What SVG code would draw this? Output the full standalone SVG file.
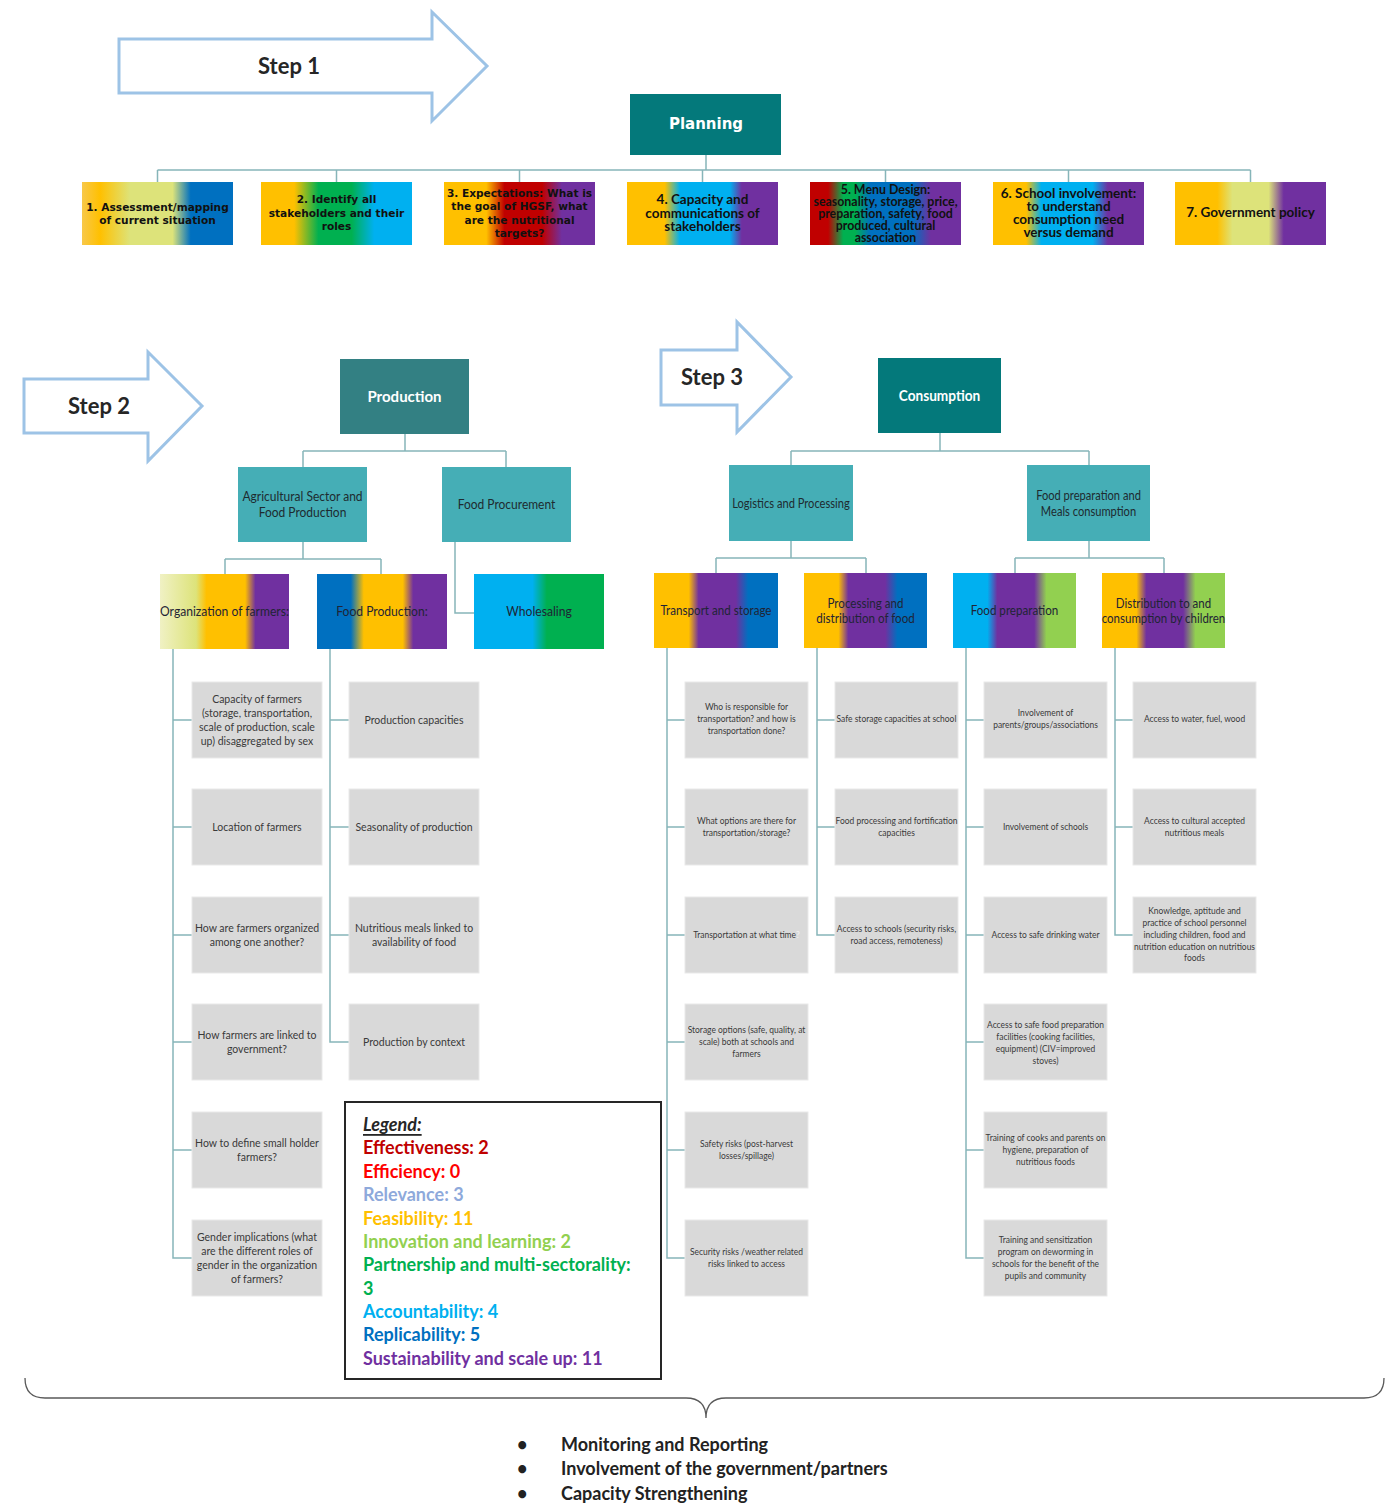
<svg xmlns="http://www.w3.org/2000/svg" width="1392" height="1504" viewBox="0 0 1392 1504">
<style>
.arrow{fill:#fff;stroke:#9DC3E6;stroke-width:3}
.step{font-family:Lato,"Liberation Sans",sans-serif;font-weight:700;font-size:22px;fill:#262626;text-anchor:middle;dominant-baseline:central}
.conn{fill:none;stroke:#86B5B9;stroke-width:1.5}
.t1{font-family:"DejaVu Sans",Verdana,sans-serif;font-weight:700;font-size:10.6px;fill:#111;text-anchor:middle;dominant-baseline:central}
.t1c{font-family:Lato,"Liberation Sans",sans-serif;font-weight:700;font-size:13.5px;fill:#111;text-anchor:middle;dominant-baseline:central}
.dk{fill:#04797B}
.dt{font-family:Lato,"Liberation Sans",sans-serif;font-weight:700;font-size:15px;fill:#fff;text-anchor:middle;dominant-baseline:central}
.pt{font-family:"DejaVu Sans",Verdana,sans-serif;font-weight:700;font-size:15px;fill:#fff;text-anchor:middle;dominant-baseline:central}
.lt{fill:#45AEB6}
.l2{font-family:Lato,"Liberation Sans",sans-serif;font-size:12.5px;fill:#1E2B30;text-anchor:middle;dominant-baseline:central}
.l3{font-family:Lato,"Liberation Sans",sans-serif;font-size:12.5px;fill:#1F2435;text-anchor:middle;dominant-baseline:central}
.gr{fill:#D9D9D9;stroke:#E9E9E9;stroke-width:1}
.g1{font-family:Lato,"Liberation Sans",sans-serif;font-size:10.5px;fill:#3A3A3A;text-anchor:middle;dominant-baseline:central}
.g2{font-family:Lato,"Liberation Sans",sans-serif;font-size:9.2px;fill:#3A3A3A;text-anchor:middle;dominant-baseline:central}
.lg{font-family:Lato,"Liberation Sans",sans-serif;font-weight:700;font-size:18px;dominant-baseline:central}
.bl{font-family:Lato,"Liberation Sans",sans-serif;font-weight:700;font-size:18px;fill:#222;dominant-baseline:central}
</style>
<defs>
<linearGradient id="gb1"><stop offset="0" stop-color="#F8C84A"/><stop offset="0.12" stop-color="#FFC000"/><stop offset="0.32" stop-color="#DDE37A"/><stop offset="0.6" stop-color="#DDE37A"/><stop offset="0.72" stop-color="#0070C0"/><stop offset="1" stop-color="#0070C0"/></linearGradient>
<linearGradient id="gb2"><stop offset="0" stop-color="#FFC000"/><stop offset="0.22" stop-color="#FFC000"/><stop offset="0.38" stop-color="#00B050"/><stop offset="0.6" stop-color="#00B050"/><stop offset="0.75" stop-color="#00B0F0"/><stop offset="1" stop-color="#00B0F0"/></linearGradient>
<linearGradient id="gb3"><stop offset="0" stop-color="#FFC000"/><stop offset="0.28" stop-color="#FFC000"/><stop offset="0.4" stop-color="#C00000"/><stop offset="0.65" stop-color="#C00000"/><stop offset="0.78" stop-color="#7030A0"/><stop offset="1" stop-color="#7030A0"/></linearGradient>
<linearGradient id="gb4"><stop offset="0" stop-color="#FFC000"/><stop offset="0.25" stop-color="#FFC000"/><stop offset="0.35" stop-color="#00B0F0"/><stop offset="0.68" stop-color="#00B0F0"/><stop offset="0.76" stop-color="#7030A0"/><stop offset="1" stop-color="#7030A0"/></linearGradient>
<linearGradient id="gb5"><stop offset="0" stop-color="#C00000"/><stop offset="0.12" stop-color="#C00000"/><stop offset="0.22" stop-color="#00B050"/><stop offset="0.3" stop-color="#00B050"/><stop offset="0.4" stop-color="#0070C0"/><stop offset="0.68" stop-color="#0070C0"/><stop offset="0.8" stop-color="#7030A0"/><stop offset="1" stop-color="#7030A0"/></linearGradient>
<linearGradient id="gb6"><stop offset="0" stop-color="#FFC000"/><stop offset="0.22" stop-color="#FFC000"/><stop offset="0.32" stop-color="#00B0F0"/><stop offset="0.66" stop-color="#00B0F0"/><stop offset="0.76" stop-color="#7030A0"/><stop offset="1" stop-color="#7030A0"/></linearGradient>
<linearGradient id="gb7"><stop offset="0" stop-color="#FFC000"/><stop offset="0.28" stop-color="#FFC000"/><stop offset="0.38" stop-color="#DDE37A"/><stop offset="0.62" stop-color="#DDE37A"/><stop offset="0.72" stop-color="#7030A0"/><stop offset="1" stop-color="#7030A0"/></linearGradient>
<linearGradient id="gOrg"><stop offset="0" stop-color="#F0F1C4"/><stop offset="0.28" stop-color="#DDE37A"/><stop offset="0.36" stop-color="#FFC000"/><stop offset="0.66" stop-color="#FFC000"/><stop offset="0.74" stop-color="#7030A0"/><stop offset="1" stop-color="#7030A0"/></linearGradient>
<linearGradient id="gFP"><stop offset="0" stop-color="#0070C0"/><stop offset="0.26" stop-color="#0070C0"/><stop offset="0.36" stop-color="#FFC000"/><stop offset="0.66" stop-color="#FFC000"/><stop offset="0.74" stop-color="#7030A0"/><stop offset="1" stop-color="#7030A0"/></linearGradient>
<linearGradient id="gWh"><stop offset="0" stop-color="#00B0F0"/><stop offset="0.45" stop-color="#00B0F0"/><stop offset="0.56" stop-color="#00B050"/><stop offset="1" stop-color="#00B050"/></linearGradient>
<linearGradient id="gTS"><stop offset="0" stop-color="#FFC000"/><stop offset="0.28" stop-color="#FFC000"/><stop offset="0.36" stop-color="#7030A0"/><stop offset="0.66" stop-color="#7030A0"/><stop offset="0.76" stop-color="#0070C0"/><stop offset="1" stop-color="#0070C0"/></linearGradient>
<linearGradient id="gFPr"><stop offset="0" stop-color="#00B0F0"/><stop offset="0.28" stop-color="#00B0F0"/><stop offset="0.36" stop-color="#7030A0"/><stop offset="0.66" stop-color="#7030A0"/><stop offset="0.76" stop-color="#92D050"/><stop offset="1" stop-color="#92D050"/></linearGradient>
<linearGradient id="gDi"><stop offset="0" stop-color="#FFC000"/><stop offset="0.28" stop-color="#FFC000"/><stop offset="0.36" stop-color="#7030A0"/><stop offset="0.66" stop-color="#7030A0"/><stop offset="0.76" stop-color="#92D050"/><stop offset="1" stop-color="#92D050"/></linearGradient>
</defs>
<rect width="1392" height="1504" fill="#fff"/>

<g id="connectors">
<path class="conn" d="M706 155V170M157.5 170H1250.5M157.5 170V182M336.5 170V182M519.5 170V182M702.5 170V182M885.5 170V182M1068.5 170V182M1250.5 170V182"/>
<path class="conn" d="M405 434V451M303 451H506M303 451V467M506 451V467"/>
<path class="conn" d="M303 542V559M225 559H381M225 559V574M381 559V574"/>
<path class="conn" d="M455 542V613H474"/>
<path class="conn" d="M940 433V451M791 451H1089M791 451V465M1089 451V465"/>
<path class="conn" d="M791 541V558M716 558H866M716 558V573M866 558V573"/>
<path class="conn" d="M1089 541V558M1015 558H1164M1015 558V573M1164 558V573"/>
<path class="conn" d="M173 649V1258H192M173 720H192M173 827H192M173 935H192M173 1042H192M173 1150H192"/>
<path class="conn" d="M330 649V1042H349M330 720H349M330 827H349M330 935H349"/>
<path class="conn" d="M667 648V1258H685M667 720H685M667 827H685M667 935H685M667 1042H685M667 1150H685"/>
<path class="conn" d="M817 648V935H835M817 720H835M817 827H835"/>
<path class="conn" d="M966 648V1258H984M966 720H984M966 827H984M966 935H984M966 1042H984M966 1150H984"/>
<path class="conn" d="M1115 648V935H1133M1115 720H1133M1115 827H1133"/>
</g>

<g id="step1"><polygon class="arrow" points="119,39 432,39 432,12 487,66 432,121 432,93 119,93"/><text class="step" x="289" y="65">Step 1</text></g>
<g id="step2"><polygon class="arrow" points="24,379 148,379 148,352 202,406 148,461 148,433 24,433"/><text class="step" x="99" y="405">Step 2</text></g>
<g id="step3"><polygon class="arrow" points="661,350 737,350 737,322 791,377 737,432 737,405 661,405"/><text class="step" x="712" y="376">Step 3</text></g>

<g id="planning"><rect class="dk" x="630" y="94" width="151" height="61"/><text class="pt" x="706" y="124">Planning</text></g>

<g id="p1"><rect x="82" y="182" width="151" height="63" fill="url(#gb1)"/><text class="t1"><tspan x="157.5" y="207">1. Assessment/mapping</tspan><tspan x="157.5" y="220">of current situation</tspan></text></g>
<g id="p2"><rect x="261" y="182" width="151" height="63" fill="url(#gb2)"/><text class="t1"><tspan x="336.5" y="199">2. Identify all</tspan><tspan x="336.5" y="212.5">stakeholders and their</tspan><tspan x="336.5" y="226">roles</tspan></text></g>
<g id="p3"><rect x="444" y="182" width="151" height="63" fill="url(#gb3)"/><text class="t1"><tspan x="519.5" y="193">3. Expectations: What is</tspan><tspan x="519.5" y="206">the goal of HGSF, what</tspan><tspan x="519.5" y="219.5">are the nutritional</tspan><tspan x="519.5" y="232.5">targets?</tspan></text></g>
<g id="p4"><rect x="627" y="182" width="151" height="63" fill="url(#gb4)"/><text class="t1c"><tspan x="702.5" y="199">4. Capacity and</tspan><tspan x="702.5" y="212.5">communications of</tspan><tspan x="702.5" y="226">stakeholders</tspan></text></g>
<g id="p5"><rect x="810" y="182" width="151" height="63" fill="url(#gb5)"/><text class="t1c" style="font-size:12.4px"><tspan x="885.5" y="189">5. Menu Design:</tspan><tspan x="885.5" y="201">seasonality, storage, price,</tspan><tspan x="885.5" y="213">preparation, safety, food</tspan><tspan x="885.5" y="225">produced, cultural</tspan><tspan x="885.5" y="237">association</tspan></text></g>
<g id="p6"><rect x="993" y="182" width="151" height="63" fill="url(#gb6)"/><text class="t1c"><tspan x="1068.5" y="193">6. School involvement:</tspan><tspan x="1068.5" y="206">to understand</tspan><tspan x="1068.5" y="219">consumption need</tspan><tspan x="1068.5" y="232">versus demand</tspan></text></g>
<g id="p7"><rect x="1175" y="182" width="151" height="63" fill="url(#gb7)"/><text class="t1c" x="1250.5" y="212">7. Government policy</text></g>

<g id="production"><rect x="340" y="359" width="129" height="75" fill="#338083"/><text class="dt" x="404.5" y="396">Production</text></g>
<g id="agri"><rect class="lt" x="238" y="467" width="129" height="75"/><text class="l2" transform="translate(302.5 0) scale(0.96 1)"><tspan x="0" y="496">Agricultural Sector and</tspan><tspan x="0" y="512">Food Production</tspan></text></g>
<g id="procurement"><rect class="lt" x="442" y="467" width="129" height="75"/><text class="l2" transform="translate(506.5 0) scale(0.96 1)" x="0" y="504">Food Procurement</text></g>
<g id="orgfarmers"><rect x="160" y="574" width="129" height="75" fill="url(#gOrg)"/><text class="l3" transform="translate(224.5 0) scale(0.97 1)" x="0" y="611">Organization of farmers:</text></g>
<g id="foodproduction"><rect x="317" y="574" width="130" height="75" fill="url(#gFP)"/><text class="l3" transform="translate(382 0) scale(0.97 1)" x="0" y="611">Food Production:</text></g>
<g id="wholesaling"><rect x="474" y="574" width="130" height="75" fill="url(#gWh)"/><text class="l3" transform="translate(539 0) scale(0.97 1)" x="0" y="611">Wholesaling</text></g>

<g id="consumption"><rect class="dk" x="878" y="358" width="123" height="75"/><text class="dt" transform="translate(939.5 0) scale(0.91 1)" x="0" y="395">Consumption</text></g>
<g id="logistics"><rect class="lt" x="729" y="465" width="124" height="76"/><text class="l2" transform="translate(791 0) scale(0.89 1)" x="0" y="503">Logistics and Processing</text></g>
<g id="foodprepmeals"><rect class="lt" x="1027" y="465" width="123" height="76"/><text class="l2" transform="translate(1088.5 0) scale(0.89 1)"><tspan x="0" y="495">Food preparation and</tspan><tspan x="0" y="511">Meals consumption</tspan></text></g>
<g id="transport"><rect x="654" y="573" width="124" height="75" fill="url(#gTS)"/><text class="l3" transform="translate(716 0) scale(0.93 1)" x="0" y="610">Transport and storage</text></g>
<g id="processing"><rect x="804" y="573" width="123" height="75" fill="url(#gTS)"/><text class="l3" transform="translate(865.5 0) scale(0.93 1)"><tspan x="0" y="603">Processing and</tspan><tspan x="0" y="618">distribution of food</tspan></text></g>
<g id="foodprep"><rect x="953" y="573" width="123" height="75" fill="url(#gFPr)"/><text class="l3" transform="translate(1014.5 0) scale(0.93 1)" x="0" y="610">Food preparation</text></g>
<g id="distribution"><rect x="1102" y="573" width="123" height="75" fill="url(#gDi)"/><text class="l3" transform="translate(1163.5 0) scale(0.92 1)"><tspan x="0" y="603">Distribution to and</tspan><tspan x="0" y="618">consumption by children</tspan></text></g>

<g id="o1"><rect class="gr" x="192" y="682" width="130" height="76"/><text class="g1"><tspan x="257" y="699">Capacity of farmers</tspan><tspan x="257" y="713">(storage, transportation,</tspan><tspan x="257" y="727">scale of production, scale</tspan><tspan x="257" y="741">up) disaggregated by sex</tspan></text></g>
<g id="o2"><rect class="gr" x="192" y="789" width="130" height="76"/><text class="g1" x="257" y="827">Location of farmers</text></g>
<g id="o3"><rect class="gr" x="192" y="897" width="130" height="76"/><text class="g1"><tspan x="257" y="928">How are farmers organized</tspan><tspan x="257" y="942">among one another?</tspan></text></g>
<g id="o4"><rect class="gr" x="192" y="1004" width="130" height="76"/><text class="g1"><tspan x="257" y="1035">How farmers are linked to</tspan><tspan x="257" y="1049">government?</tspan></text></g>
<g id="o5"><rect class="gr" x="192" y="1112" width="130" height="76"/><text class="g1"><tspan x="257" y="1143">How to define small holder</tspan><tspan x="257" y="1157">farmers?</tspan></text></g>
<g id="o6"><rect class="gr" x="192" y="1220" width="130" height="76"/><text class="g1"><tspan x="257" y="1237">Gender implications (what</tspan><tspan x="257" y="1251">are the different roles of</tspan><tspan x="257" y="1265">gender in the organization</tspan><tspan x="257" y="1279">of farmers?</tspan></text></g>

<g id="f1"><rect class="gr" x="349" y="682" width="130" height="76"/><text class="g1" x="414" y="720">Production capacities</text></g>
<g id="f2"><rect class="gr" x="349" y="789" width="130" height="76"/><text class="g1" x="414" y="827">Seasonality of production</text></g>
<g id="f3"><rect class="gr" x="349" y="897" width="130" height="76"/><text class="g1"><tspan x="414" y="928">Nutritious meals linked to</tspan><tspan x="414" y="942">availability of food</tspan></text></g>
<g id="f4"><rect class="gr" x="349" y="1004" width="130" height="76"/><text class="g1" x="414" y="1042">Production by context</text></g>

<g id="t1"><rect class="gr" x="685" y="682" width="123" height="76"/><text class="g2" transform="translate(746.5 0) scale(0.92 1)"><tspan x="0" y="706">Who is responsible for</tspan><tspan x="0" y="718">transportation? and how is</tspan><tspan x="0" y="730">transportation done?</tspan></text></g>
<g id="t2"><rect class="gr" x="685" y="789" width="123" height="76"/><text class="g2" transform="translate(746.5 0) scale(0.92 1)"><tspan x="0" y="820">What options are there for</tspan><tspan x="0" y="832">transportation/storage?</tspan></text></g>
<g id="t3"><rect class="gr" x="685" y="897" width="123" height="76"/><text class="g2" transform="translate(746.5 0) scale(0.92 1)" x="0" y="934">Transportation at what time<tspan fill="#F2F2F2">?</tspan></text></g>
<g id="t4"><rect class="gr" x="685" y="1004" width="123" height="76"/><text class="g2" transform="translate(746.5 0) scale(0.92 1)"><tspan x="0" y="1029">Storage options (safe, quality, at</tspan><tspan x="0" y="1041">scale) both at schools and</tspan><tspan x="0" y="1053">farmers</tspan></text></g>
<g id="t5"><rect class="gr" x="685" y="1112" width="123" height="76"/><text class="g2" transform="translate(746.5 0) scale(0.92 1)"><tspan x="0" y="1143">Safety risks (post-harvest</tspan><tspan x="0" y="1155">losses/spillage)</tspan></text></g>
<g id="t6"><rect class="gr" x="685" y="1220" width="123" height="76"/><text class="g2" transform="translate(746.5 0) scale(0.92 1)"><tspan x="0" y="1251">Security risks /weather related</tspan><tspan x="0" y="1263">risks linked to access</tspan></text></g>

<g id="pr1"><rect class="gr" x="835" y="682" width="123" height="76"/><text class="g2" transform="translate(896.5 0) scale(0.92 1)" x="0" y="718">Safe storage capacities at school</text></g>
<g id="pr2"><rect class="gr" x="835" y="789" width="123" height="76"/><text class="g2" transform="translate(896.5 0) scale(0.92 1)"><tspan x="0" y="820">Food processing and fortification</tspan><tspan x="0" y="832">capacities</tspan></text></g>
<g id="pr3"><rect class="gr" x="835" y="897" width="123" height="76"/><text class="g2" transform="translate(896.5 0) scale(0.92 1)"><tspan x="0" y="928">Access to schools (security risks,</tspan><tspan x="0" y="940">road access, remoteness)</tspan></text></g>

<g id="fp1"><rect class="gr" x="984" y="682" width="123" height="76"/><text class="g2" transform="translate(1045.5 0) scale(0.92 1)"><tspan x="0" y="712">Involvement of</tspan><tspan x="0" y="724">parents/groups/associations</tspan></text></g>
<g id="fp2"><rect class="gr" x="984" y="789" width="123" height="76"/><text class="g2" transform="translate(1045.5 0) scale(0.92 1)" x="0" y="826">Involvement of schools</text></g>
<g id="fp3"><rect class="gr" x="984" y="897" width="123" height="76"/><text class="g2" transform="translate(1045.5 0) scale(0.92 1)" x="0" y="934">Access to safe drinking water</text></g>
<g id="fp4"><rect class="gr" x="984" y="1004" width="123" height="76"/><text class="g2" transform="translate(1045.5 0) scale(0.92 1)"><tspan x="0" y="1024">Access to safe food preparation</tspan><tspan x="0" y="1036">facilities (cooking facilities,</tspan><tspan x="0" y="1048">equipment) (CIV=improved</tspan><tspan x="0" y="1060">stoves)</tspan></text></g>
<g id="fp5"><rect class="gr" x="984" y="1112" width="123" height="76"/><text class="g2" transform="translate(1045.5 0) scale(0.92 1)"><tspan x="0" y="1137">Training of cooks and parents on</tspan><tspan x="0" y="1149">hygiene, preparation of</tspan><tspan x="0" y="1161">nutritious foods</tspan></text></g>
<g id="fp6"><rect class="gr" x="984" y="1220" width="123" height="76"/><text class="g2" transform="translate(1045.5 0) scale(0.92 1)"><tspan x="0" y="1239">Training and sensitization</tspan><tspan x="0" y="1251">program on deworming in</tspan><tspan x="0" y="1263">schools for the benefit of the</tspan><tspan x="0" y="1275">pupils and community</tspan></text></g>

<g id="d1"><rect class="gr" x="1133" y="682" width="123" height="76"/><text class="g2" transform="translate(1194.5 0) scale(0.92 1)" x="0" y="718">Access to water, fuel, wood</text></g>
<g id="d2"><rect class="gr" x="1133" y="789" width="123" height="76"/><text class="g2" transform="translate(1194.5 0) scale(0.92 1)"><tspan x="0" y="820">Access to cultural accepted</tspan><tspan x="0" y="832">nutritious meals</tspan></text></g>
<g id="d3"><rect class="gr" x="1133" y="897" width="123" height="76"/><text class="g2" transform="translate(1194.5 0) scale(0.92 1)"><tspan x="0" y="910">Knowledge, aptitude and</tspan><tspan x="0" y="922">practice of school personnel</tspan><tspan x="0" y="934">including children, food and</tspan><tspan x="0" y="946">nutrition education on nutritious</tspan><tspan x="0" y="957">foods</tspan></text></g>

<g id="legend">
<rect x="345" y="1102" width="316" height="277" fill="#fff" stroke="#262626" stroke-width="2"/>
<text class="lg" x="363" y="1124" fill="#262626" font-style="italic" text-decoration="underline">Legend:</text>
<text class="lg" x="363" y="1147" fill="#C00000">Effectiveness: 2</text>
<text class="lg" x="363" y="1171" fill="#FF0000">Efficiency: 0</text>
<text class="lg" x="363" y="1194" fill="#8EA9DB">Relevance: 3</text>
<text class="lg" x="363" y="1218" fill="#FFC000">Feasibility: 11</text>
<text class="lg" x="363" y="1241" fill="#92D050">Innovation and learning: 2</text>
<text class="lg" x="363" y="1264" fill="#00B050">Partnership and multi-sectorality:</text>
<text class="lg" x="363" y="1288" fill="#00B050">3</text>
<text class="lg" x="363" y="1311" fill="#00B0F0">Accountability: 4</text>
<text class="lg" x="363" y="1334" fill="#0070C0">Replicability: 5</text>
<text class="lg" x="363" y="1358" fill="#7030A0">Sustainability and scale up: 11</text>
</g>

<g id="brace"><path d="M25 1378Q25 1398 45 1398L686 1398Q706 1398 706 1418Q706 1398 726 1398L1364 1398Q1384 1398 1384 1378" fill="none" stroke="#595959" stroke-width="1.3"/></g>

<g id="bullets">
<text class="bl" x="517" y="1444">•</text><text class="bl" x="561" y="1444">Monitoring and Reporting</text>
<text class="bl" x="517" y="1468">•</text><text class="bl" x="561" y="1468">Involvement of the government/partners</text>
<text class="bl" x="517" y="1493">•</text><text class="bl" x="561" y="1493">Capacity Strengthening</text>
</g>
</svg>
